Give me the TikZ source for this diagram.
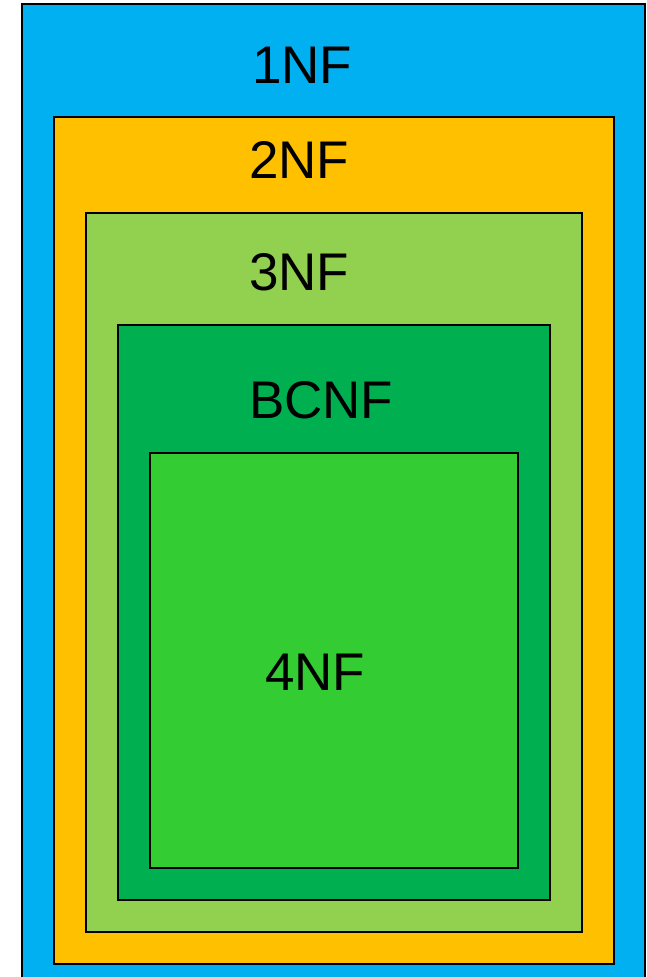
\documentclass[tikz,border=0pt]{standalone}
\usepackage{fontspec}
\setmainfont{Liberation Sans}
\definecolor{nfblue}{HTML}{00B0F0}
\definecolor{nforange}{HTML}{FFC000}
\definecolor{nflime}{HTML}{92D050}
\definecolor{nfgreen}{HTML}{00B050}
\definecolor{nfbright}{HTML}{33CC33}
\begin{document}
\begin{tikzpicture}[x=1pt,y=-1pt,line width=2pt,
    nflabel/.style={anchor=base west,inner sep=0pt,font=\fontsize{53}{60}\selectfont}]
        \useasboundingbox (0,0) rectangle (646,977);
        \clip (0,0) rectangle (646,977);
        \filldraw[fill=nfblue] (22,4) rectangle (645,990);
        \filldraw[fill=nforange] (54,117) rectangle (614,964);
        \filldraw[fill=nflime] (86,213) rectangle (582,932);
        \filldraw[fill=nfgreen] (118,325) rectangle (550,900);
        \filldraw[fill=nfbright] (150,453) rectangle (518,868);
        \node[nflabel] (first) at (251,83) {1NF};
        \node[nflabel] (second) at (248,178) {2NF};
        \node[nflabel] (third) at (248,290) {3NF};
        \node[nflabel] (bcnf) at (248,418) {BCNF};
        \node[nflabel] (fourth) at (264,690) {4NF};
    \end{tikzpicture}
\end{document}
